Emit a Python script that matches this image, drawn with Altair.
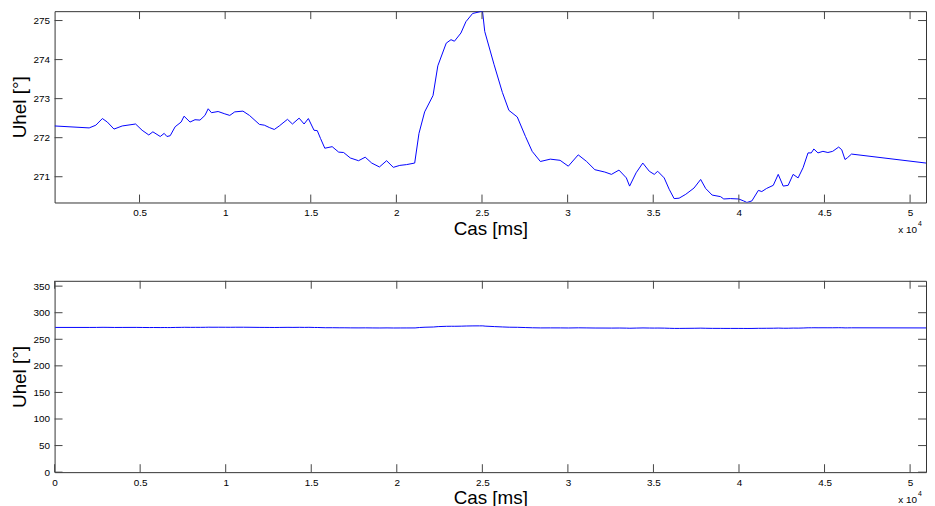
import altair as alt
import pandas as pd

time_ms = [40, 2060, 2450, 2830, 3120, 3510, 3990, 4770, 5150, 5540, 5780, 6210, 6440, 6600, 6790,
           7080, 7430, 7600, 7950, 8240, 8530, 8820, 9010, 9200, 9590, 9980, 10270, 10560, 11040,
           11420, 12000, 12290, 12580, 12870, 13160, 13640, 13930, 14320, 14610, 14860, 15190,
           15380, 15570, 15820, 16250, 16630, 16920, 17310, 17790, 18180, 18560, 19010, 19430,
           19820, 20200, 20590, 21070, 21320, 21650, 22140, 22420, 22910, 23190, 23390, 23770,
           24060, 24450, 24830, 25030, 25160, 25700, 26190, 26570, 27060, 27540, 27930, 28410,
           28990, 29560, 30040, 30620, 31110, 31590, 32170, 32560, 33000, 33430, 33620, 34000,
           34390, 34770, 35060, 35260, 35640, 35930, 36220, 36510, 36900, 37380, 37770, 38060,
           38440, 38930, 39120, 39500, 39990, 40280, 40470, 40760, 41140, 41340, 41620, 42010,
           42300, 42590, 42880, 43170, 43460, 43750, 44040, 44230, 44380, 44620, 44910, 45200,
           45480, 45830, 46010, 46200, 46350, 46580, 50930]
angle_deg = [272.30, 272.25, 272.32, 272.49, 272.40, 272.22, 272.30, 272.35, 272.19, 272.07, 272.15,
             272.03, 272.11, 272.03, 272.05, 272.28, 272.40, 272.55, 272.40, 272.46, 272.45, 272.57,
             272.74, 272.64, 272.67, 272.61, 272.57, 272.66, 272.68, 272.57, 272.34, 272.32, 272.26,
             272.21, 272.30, 272.47, 272.35, 272.50, 272.35, 272.49, 272.19, 272.18, 271.98, 271.73,
             271.77, 271.63, 271.62, 271.48, 271.41, 271.50, 271.35, 271.25, 271.41, 271.24, 271.29,
             271.31, 271.35, 272.11, 272.66, 273.08, 273.84, 274.42, 274.51, 274.47, 274.68, 274.97,
             275.18, 275.22, 275.24, 274.72, 273.88, 273.16, 272.70, 272.53, 272.03, 271.65, 271.39,
             271.45, 271.42, 271.27, 271.56, 271.39, 271.18, 271.12, 271.06, 271.17, 270.97, 270.76,
             271.10, 271.35, 271.14, 271.06, 271.14, 270.97, 270.68, 270.44, 270.45, 270.55, 270.71,
             270.93, 270.70, 270.53, 270.49, 270.43, 270.44, 270.43, 270.38, 270.34, 270.38, 270.65,
             270.62, 270.70, 270.78, 271.06, 270.76, 270.78, 271.06, 270.97, 271.23, 271.61, 271.61,
             271.71, 271.61, 271.65, 271.62, 271.65, 271.76, 271.69, 271.44, 271.49, 271.58, 271.35]

top_xticks = [5000, 10000, 15000, 20000, 25000, 30000, 35000, 40000, 45000, 50000]
bottom_xticks = [0, 5000, 10000, 15000, 20000, 25000, 30000, 35000, 40000, 45000, 50000]
top_yticks = [271, 272, 273, 274, 275]
bottom_yticks = [0, 50, 100, 150, 200, 250, 300, 350]

top_xdomain = [40, 50930]
bottom_xdomain = [0, 50930]
top_ydomain = [270.34, 275.24]
bottom_ydomain = [0, 360]

x_title = "Cas [ms]"
y_title = "Uhel [°]"
exponent_base = "x 10"
exponent_power = "4"

W = 879
H = 193
TICK = 8
FONT = "Liberation Sans"
TICK_COLOR = "#444444"

line_df = pd.DataFrame({"t": time_ms, "angle": angle_deg})
one_row = pd.DataFrame({"a": [0]})


def panel(xdomain, ydomain, xticks, yticks):
    xscale = alt.Scale(domain=xdomain, nice=False, zero=False)
    yscale = alt.Scale(domain=ydomain, nice=False, zero=False)
    xaxis = alt.Axis(values=xticks, labelExpr="datum.value / 10000", title=x_title,
                     labelFlush=False, labelOverlap=False, grid=False, ticks=False, domain=False,
                     titlePadding=2)
    yaxis = alt.Axis(values=yticks, format="d", title=y_title,
                     labelFlush=False, labelOverlap=False, grid=False, ticks=False, domain=False,
                     titlePadding=4)
    line = alt.Chart(line_df).mark_line(color="#0000ff", strokeWidth=1, clip=True).encode(
        x=alt.X("t:Q", scale=xscale, axis=xaxis),
        y=alt.Y("angle:Q", scale=yscale, axis=yaxis),
    )
    xt = pd.DataFrame({"t": xticks})
    yt = pd.DataFrame({"angle": yticks})
    xb = alt.Chart(xt).mark_rule(color=TICK_COLOR, strokeWidth=1).encode(
        x=alt.X("t:Q", scale=xscale, axis=xaxis), y=alt.value(H), y2=alt.value(H - TICK))
    xtop = alt.Chart(xt).mark_rule(color=TICK_COLOR, strokeWidth=1).encode(
        x=alt.X("t:Q", scale=xscale, axis=xaxis), y=alt.value(0), y2=alt.value(TICK))
    yl = alt.Chart(yt).mark_rule(color=TICK_COLOR, strokeWidth=1).encode(
        y=alt.Y("angle:Q", scale=yscale, axis=yaxis), x=alt.value(0), x2=alt.value(TICK))
    yr = alt.Chart(yt).mark_rule(color=TICK_COLOR, strokeWidth=1).encode(
        y=alt.Y("angle:Q", scale=yscale, axis=yaxis), x=alt.value(W - TICK), x2=alt.value(W))
    exp_base = alt.Chart(one_row).mark_text(align="right", baseline="middle", fontSize=10,
                                            font=FONT, color="black").encode(
        x=alt.value(W - 9), y=alt.value(H + 28), text=alt.value(exponent_base))
    exp_pow = alt.Chart(one_row).mark_text(align="left", baseline="middle", fontSize=7,
                                           font=FONT, color="black").encode(
        x=alt.value(W - 8), y=alt.value(H + 22), text=alt.value(exponent_power))
    return alt.layer(line, xb, xtop, yl, yr, exp_base, exp_pow).properties(width=W, height=H)


top = panel(top_xdomain, top_ydomain, top_xticks, top_yticks)
bottom = panel(bottom_xdomain, bottom_ydomain, bottom_xticks, bottom_yticks)

chart = alt.vconcat(top, bottom, spacing=41).properties(
    padding={"left": 1, "top": 0, "right": 0, "bottom": 0},
    background="white",
).configure_view(
    stroke="#333333", strokeWidth=1
).configure_axis(
    domain=False, ticks=False, grid=False,
    labelFont=FONT, labelFontSize=10, labelColor="black", labelPadding=5,
    titleFont=FONT, titleFontSize=19, titleFontWeight="normal", titleColor="black",
)

chart.save("out.html", embed_options={"renderer": "svg", "actions": False})
